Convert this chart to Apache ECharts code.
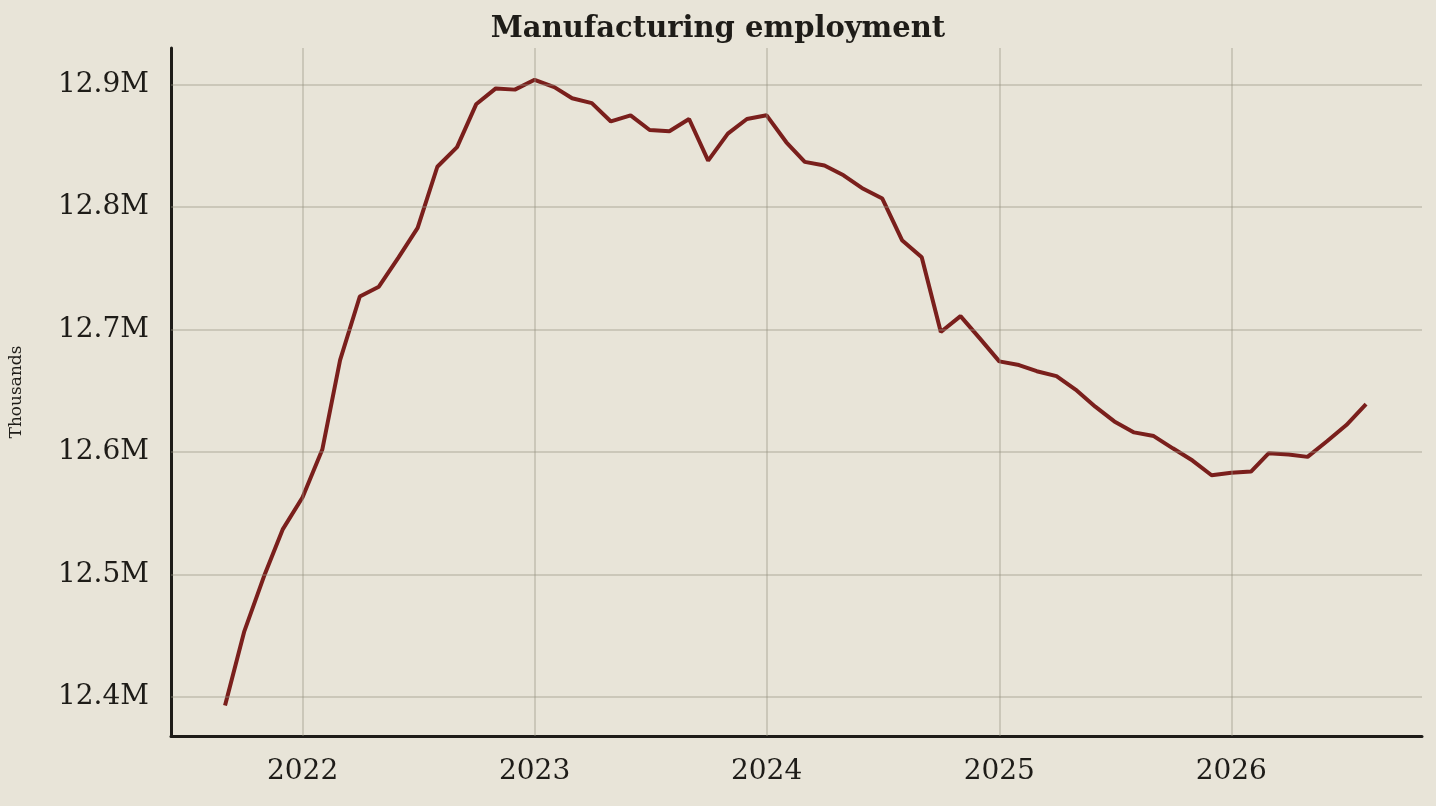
<!DOCTYPE html>
<html><head><meta charset="utf-8">
<script src="https://cdn.jsdelivr.net/npm/echarts@6/dist/echarts.min.js"></script>
<style>html,body{margin:0;background:#e8e4d8}#c{width:1436px;height:806px}</style>
</head><body><div id="c"></div>
<script>
const startMonth = [2021, 9];
const values = [12393,12453,12498,12537,12563,12602,12675,12727,12735,12759,12783,12833,12849,12884,12897,12896,
12904,12898,12889,12885,12870,12875,12863,12862,12872,12838,12860,12872,
12875,12853,12837,12834,12826,12815,12807,12773,12759,12698,12711,12693,
12674,12671,12666,12662,12651,12637,12625,12616,12613,12603,12593,12581,
12583,12584,12599,12598,12596,12609,12622,12639];
const yTicks = [12400,12500,12600,12700,12800,12900];
const xYears = [2022,2023,2024,2025,2026];

const data = values.map((v,i)=>[Date.UTC(startMonth[0], startMonth[1]-1+i, 1), v]);
const yearTs = xYears.map(y=>Date.UTC(y,0,1));
const font = '"DejaVu Serif", serif';
const gridC = 'rgba(150,145,130,0.35)';
const chart = echarts.init(document.getElementById('c'));
chart.setOption({
  backgroundColor:'#e8e4d8',
  animation:false,
  title:{text:'Manufacturing employment',left:'center',top:10,textStyle:{fontFamily:font,fontSize:29,fontWeight:'bold',color:'#1e1c18'}},
  grid:{left:168,right:14,top:48,bottom:70},
  xAxis:{type:'value',min:Date.UTC(2021,5,8),max:Date.UTC(2026,9,28),
    axisLine:{lineStyle:{color:'#1e1c18',width:3}},axisTick:{show:false},splitLine:{show:false},
    axisLabel:{customValues:yearTs,formatter:v=>String(new Date(v).getUTCFullYear()),fontFamily:font,fontSize:28,color:'#1e1c18',margin:22}},
  yAxis:{type:'value',min:12368,max:12930,name:'Thousands',nameLocation:'middle',nameGap:146,
    nameTextStyle:{fontFamily:font,fontSize:17,color:'#1e1c18'},
    axisLine:{show:true,lineStyle:{color:'#1e1c18',width:3}},axisTick:{show:false},splitLine:{show:false},
    axisLabel:{customValues:yTicks,formatter:v=>(v/1000).toFixed(1)+'M',fontFamily:font,fontSize:28,color:'#1e1c18',margin:22}},
  series:[{type:'line',data:data,showSymbol:false,lineStyle:{color:'#7a1f1c',width:4},
    markLine:{silent:true,symbol:'none',label:{show:false},lineStyle:{color:gridC,width:2,type:'solid'},
      data:[...yTicks.map(v=>({yAxis:v})),...yearTs.map(v=>({xAxis:v}))]}}]
});
</script></body></html>
